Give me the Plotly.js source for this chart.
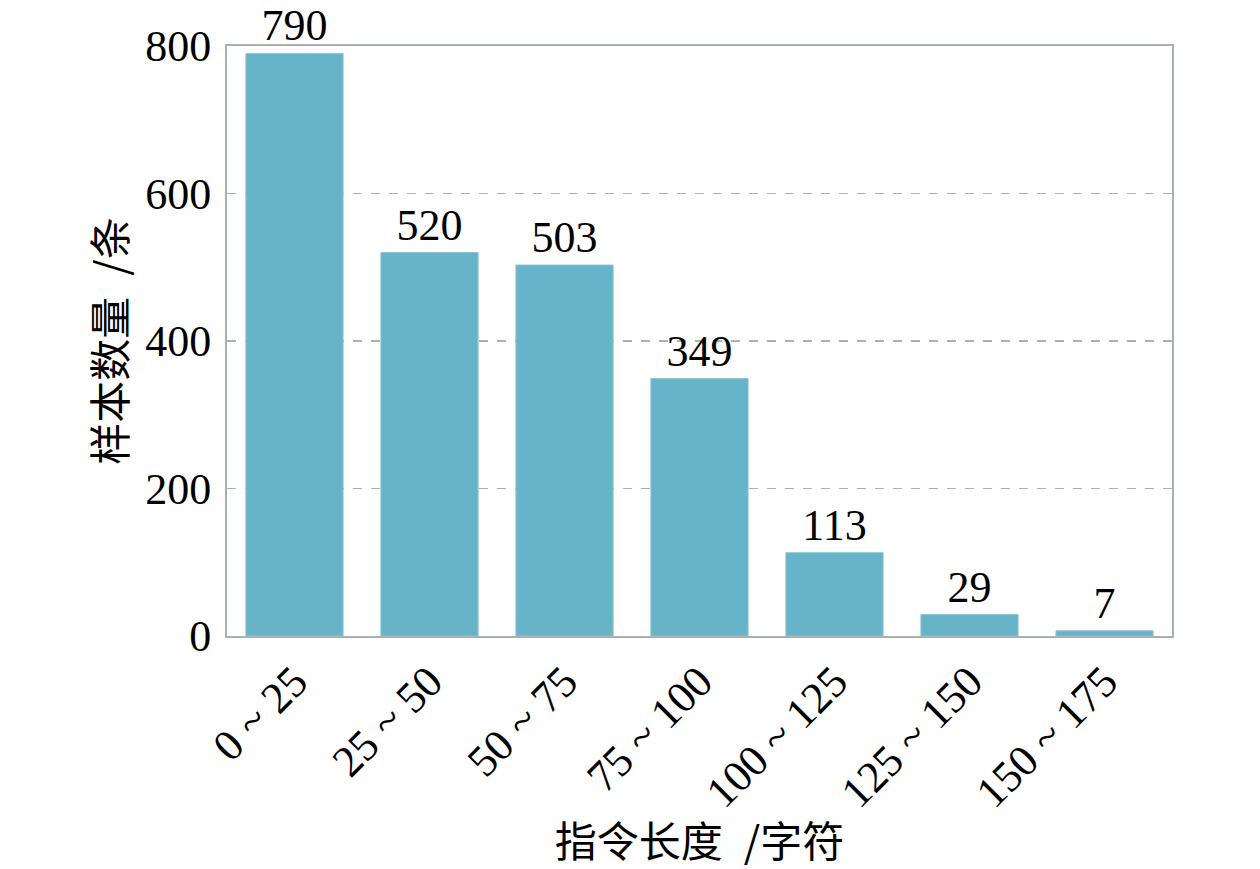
<!DOCTYPE html>
<html>
<head>
<meta charset="utf-8">
<script src="https://cdn.plot.ly/plotly-3.0.1.min.js"></script>
<style>html,body{margin:0;padding:0;background:#fff;}#chart{width:1260px;height:869px;}</style>
</head>
<body>
<div id="chart"></div>
<script>
const categories = ["0 ~ 25", "25 ~ 50", "50 ~ 75", "75 ~ 100", "100 ~ 125", "125 ~ 150", "150 ~ 175"];
const counts = [790, 520, 503, 349, 113, 29, 7];
const yTicks = [0, 200, 400, 600, 800];
const xTitle = "指令长度\u2002/字符";
const yTitle = "样本数量\u2002/条";

const serif = "'Liberation Serif', 'Noto Sans CJK SC', serif";
const cjk = "'Noto Sans CJK SC', 'Liberation Serif', serif";

const trace = {
  type: "bar",
  x: categories,
  y: counts,
  text: counts.map(String),
  textposition: "outside",
  cliponaxis: false,
  textfont: {family: serif, size: 44, color: "#000"},
  marker: {color: "#67b3c8", line: {color: "#8cc6d6", width: 1}},
  width: 0.72,
  hoverinfo: "x+y"
};

const layout = {
  width: 1260, height: 869,
  margin: {l: 227, r: 88, t: 46, b: 233},
  paper_bgcolor: "#fff", plot_bgcolor: "#fff",
  showlegend: false,
  xaxis: {
    type: "category",
    tickangle: -45,
    tickfont: {family: serif, size: 44, color: "#000"},
    showline: true, mirror: true, linecolor: "#a8b0b0", linewidth: 2,
    showgrid: false, ticks: "",
    title: {text: xTitle, font: {family: cjk, size: 42, color: "#000"}, standoff: 10}
  },
  yaxis: {
    range: [0, 800],
    tickvals: yTicks,
    ticktext: yTicks.map(String),
    tickfont: {family: serif, size: 44, color: "#000"},
    showline: true, mirror: true, linecolor: "#a8b0b0", linewidth: 2,
    showgrid: true, gridcolor: "#b0b0b0", griddash: "dash", gridwidth: 1.3,
    zeroline: false, ticks: "",
    ticklabelstandoff: 5,
    title: {text: yTitle, font: {family: cjk, size: 42, color: "#000"}, standoff: 6}
  }
};

Plotly.newPlot("chart", [trace], layout, {staticPlot: true});
</script>
</body>
</html>
